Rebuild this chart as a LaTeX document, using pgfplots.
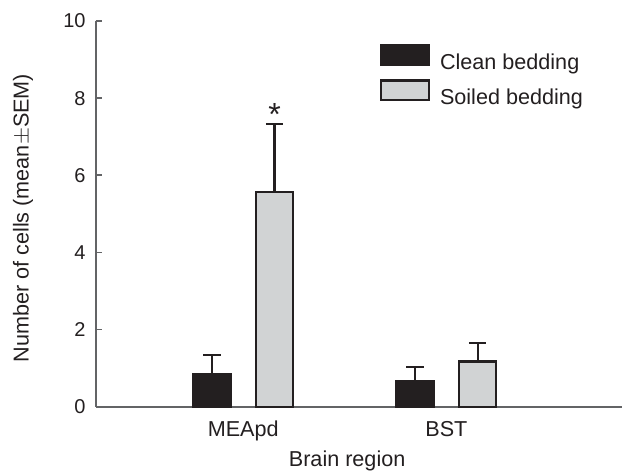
\documentclass[border=0pt]{standalone}
\usepackage{fontspec}
\setmainfont{Liberation Sans}
\usepackage{pgfplots}
\pgfplotsset{compat=1.18}
\definecolor{dark}{HTML}{231F20}
\definecolor{lgray}{HTML}{D1D3D4}
\definecolor{axgray}{HTML}{636466}
\begin{document}
\begin{tikzpicture}
\begin{axis}[
  name=ax,
  scale only axis,
  width=263pt, height=192.85pt,
  xmin=-0.726, xmax=1.863,
  ymin=0, ymax=10,
  clip=false,
  ybar, bar width=18.5pt,
  axis x line=bottom, axis y line=left,
  axis line style={-, color=axgray, line width=0.85pt},
  xtick={0,1}, xticklabels={MEApd,BST},
  xtick style={draw=none},
  ytick={0,2,4,6,8,10},
  ytick style={color=axgray, line width=0.85pt},
  tick align=inside,
  major tick length=3pt,
  /pgf/number format/assume math mode=true,
  yticklabel style={font=\fontsize{10}{12}\selectfont, text=dark, anchor=east, inner sep=0pt, xshift=-4.85pt},
  xticklabel style={font=\fontsize{10.8}{13}\selectfont, text=dark, anchor=base, inner sep=0pt, yshift=-15pt},
  xlabel={Brain region},
  ylabel={Number of cells (mean$\pm$SEM)},
  label style={font=\fontsize{10.8}{13}\selectfont, text=dark},
  xlabel style={at={(axis description cs:0.478,-0.1563)}, anchor=base, inner sep=0pt},
  ylabel style={at={(axis description cs:-0.138,0.489)}, anchor=center, rotate=0},
  legend style={at={(axis description cs:0.5405,0.9404)}, anchor=north west, draw=none, fill=none,
    inner sep=0pt, outer sep=0pt, row sep=3.3pt, column sep=5pt,
    nodes={inner sep=0pt, font=\fontsize{10.8}{13}\selectfont, text=dark}},
  legend cell align=left,
]
\addplot[bar shift=-15.65pt, fill=dark, draw=dark, line width=1.15pt,
  legend image code/.code={\draw[fill=dark, draw=dark, line width=1.15pt] (0.575pt,-0.775pt) rectangle (24.425pt,9.075pt);},
  error bars/.cd, y dir=plus, y explicit,
  error bar style={line width=1.15pt, color=dark},
  error mark options={rotate=90, mark size=4.35pt, line width=1.15pt, color=dark}]
  coordinates {(0,0.84) +- (0,0.50) (1,0.66) +- (0,0.377)};
\addlegendentry{Clean bedding}
\addplot[bar shift=15.65pt, fill=lgray, draw=dark, line width=1.15pt,
  legend image code/.code={\draw[fill=lgray, draw=dark, line width=1.15pt] (0.575pt,-0.775pt) rectangle (24.425pt,9.075pt);},
  error bars/.cd, y dir=plus, y explicit,
  error bar style={line width=1.15pt, color=dark},
  error mark options={rotate=90, mark size=4.35pt, line width=1.15pt, color=dark}]
  coordinates {(0,5.57) +- (0,1.76) (1,1.17) +- (0,0.474)};
\addlegendentry{Soiled bedding}
\node[anchor=base, inner sep=0pt, text=dark] at (axis cs:0.154,7.30) {\fontsize{16}{16}\selectfont *};
\end{axis}
\pgfresetboundingbox
\path (ax.south west) ++(-47.85pt,-32.15pt) rectangle ++(312pt,235.5pt);
\end{tikzpicture}
\end{document}
